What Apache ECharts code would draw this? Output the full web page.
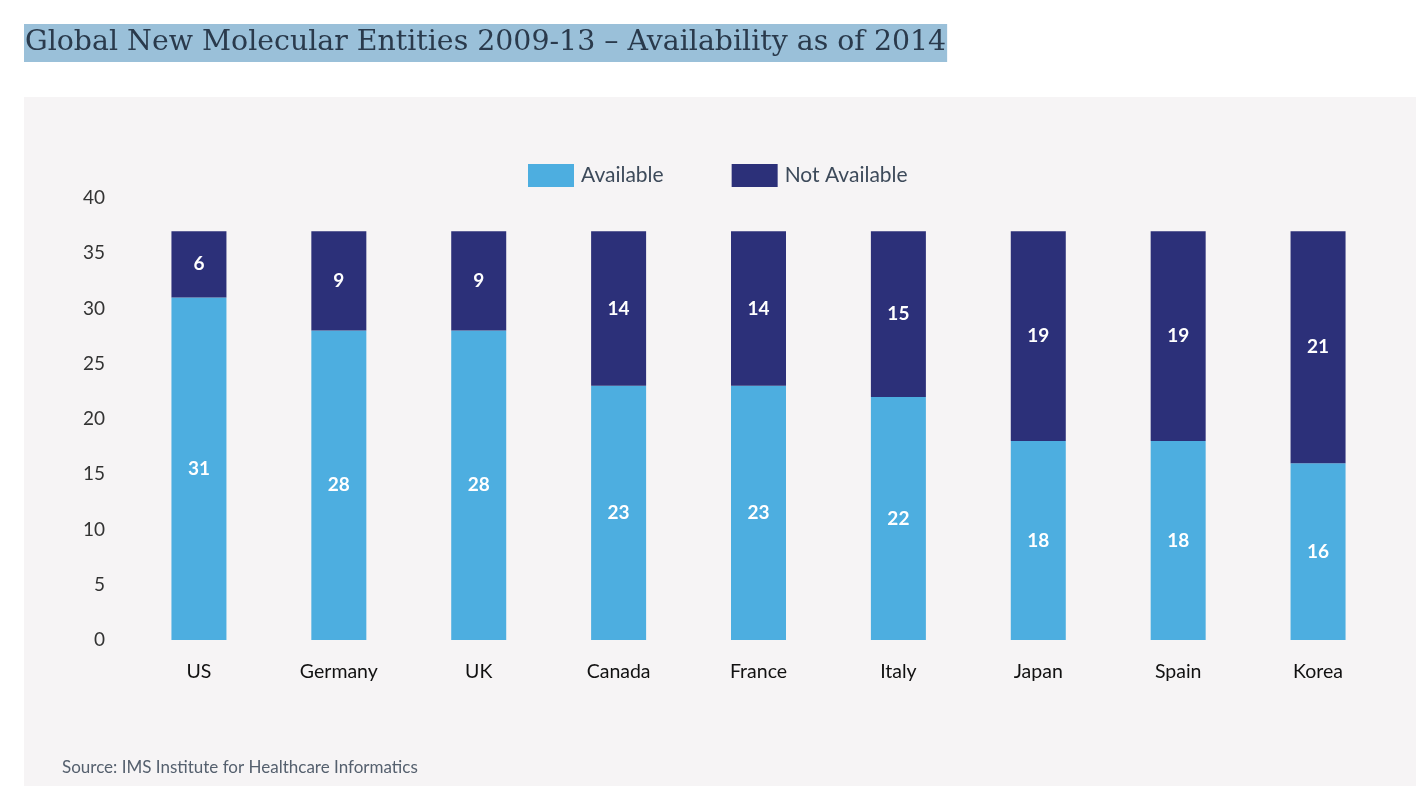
<!DOCTYPE html>
<html>
<head>
<meta charset="utf-8">
<script src="https://cdn.jsdelivr.net/npm/echarts@6/dist/echarts.min.js"></script>
<style>
html,body{margin:0;padding:0;background:#ffffff;}
#chart{width:1426px;height:811px;}
</style>
</head>
<body>
<div id="chart"></div>
<script>
const titleText = 'Global New Molecular Entities 2009-13 \u2013 Availability as of 2014';
const sourceText = 'Source: IMS Institute for Healthcare Informatics';
const categories = ['US','Germany','UK','Canada','France','Italy','Japan','Spain','Korea'];
const available = [31,28,28,23,23,22,18,18,16];
const notAvailable = [6,9,9,14,14,15,19,19,21];
const seriesNames = ['Available','Not Available'];
const yTicks = {min:0,max:40,interval:5};

const chart = echarts.init(document.getElementById('chart'));
const font = 'Lato, "Noto Sans", sans-serif';
const labelStyle = {show:true,position:'inside',color:'#ffffff',fontSize:19,fontWeight:'bold',fontFamily:font};
chart.setOption({
  backgroundColor:'#ffffff',
  animation:false,
  graphic:[
    {type:'rect',left:24,top:97,shape:{width:1392,height:689},style:{fill:'#f6f4f5'},z:-10}
  ],
  title:[
    {text:titleText,left:24,top:24,padding:[3,1,3,1],backgroundColor:'#9ac0d9',
     textStyle:{fontFamily:'"DejaVu Serif","Liberation Serif",serif',fontSize:28.4,fontWeight:'normal',color:'#2a3a4c',lineHeight:32}},
    {text:sourceText,left:62,top:759,padding:0,
     textStyle:{fontFamily:font,fontSize:17,fontWeight:'normal',color:'#55606e'}}
  ],
  legend:{
    top:159,left:523,itemWidth:46,itemHeight:23,itemGap:68,icon:'rect',
    textStyle:{fontFamily:font,fontSize:21,color:'#3d4a5a',padding:[0,0,0,2]},
    data:seriesNames
  },
  grid:{left:129,right:38,top:198,bottom:171,containLabel:false},
  xAxis:{
    type:'category',data:categories,
    axisLine:{show:false},axisTick:{show:false},
    axisLabel:{color:'#111111',fontSize:19.5,fontFamily:font,margin:22}
  },
  yAxis:{
    type:'value',min:yTicks.min,max:yTicks.max,interval:yTicks.interval,
    splitLine:{show:false},axisLine:{show:false},axisTick:{show:false},
    axisLabel:{color:'#333333',fontSize:19,fontFamily:font,margin:24}
  },
  series:[
    {name:seriesNames[0],type:'bar',stack:'a',data:available,barWidth:55,
     itemStyle:{color:'#4daee0'},label:labelStyle},
    {name:seriesNames[1],type:'bar',stack:'a',data:notAvailable,barWidth:55,
     itemStyle:{color:'#2c3079'},label:labelStyle}
  ]
});
</script>
</body>
</html>
